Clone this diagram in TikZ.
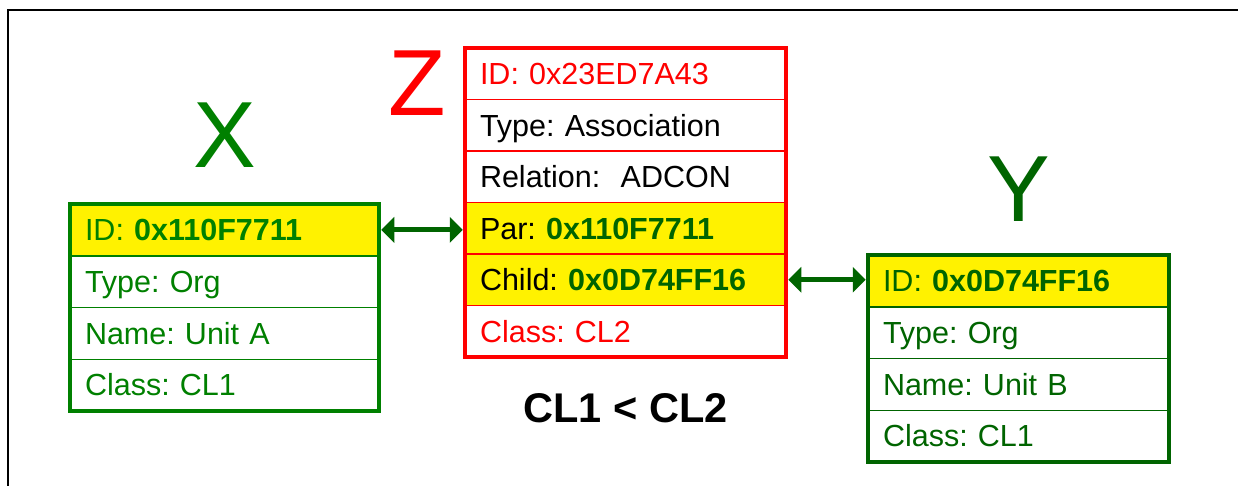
\documentclass[tikz,border=0pt]{standalone}
\usepackage{fontspec}
\setmainfont{Liberation Sans}
\usetikzlibrary{positioning,arrows.meta}
\definecolor{xgreen}{RGB}{0,128,0}
\definecolor{ygreen}{RGB}{0,100,0}
\newcommand{\rowfont}{\fontsize{30.5}{34}\selectfont\frenchspacing}
\newcommand{\bigfont}{\fontsize{94}{100}\selectfont}
\tikzset{
	cell/.style={draw, line width=1.5pt, outer sep=0pt, inner xsep=15pt, inner ysep=0pt,
		minimum height=51.75pt, text height=21.5pt, text depth=0pt, align=left, font=\rowfont},
	frame/.style={line width=4.5pt},
	letter/.style={inner sep=0pt, text height=67pt, text depth=0pt, font=\bigfont},
	link/.style={{Triangle[length=13pt,width=25pt]}-{Triangle[length=13pt,width=25pt]},
		ygreen, line width=5pt, shorten <=2.25pt, shorten >=2.25pt}
}
\begin{document}
\begin{tikzpicture}[x=1pt, y=-1pt]
			\useasboundingbox (0, 0) rectangle (1238, 485);
			\draw[line width=2pt]	(8, 490) -- (8, 10) -- (1240, 10);

			% X
			\node[cell, draw=xgreen, text=xgreen, fill=yellow, text width=279pt, anchor=north west] (xid) at (70, 204) {ID: \textbf{0x110F7711}};
			\node[cell, draw=xgreen, text=xgreen, text width=279pt, below=0pt of xid] (xtype) {Type: Org};
			\node[cell, draw=xgreen, text=xgreen, text width=279pt, below=0pt of xtype] (xname) {Name: Unit A};
			\node[cell, draw=xgreen, text=xgreen, text width=279pt, below=0pt of xname] (xclass) {Class: CL1};
			\draw[frame, xgreen]	(xid.north west) rectangle (xclass.south east);
			\node[letter, text=xgreen, above=36pt of xid] (xlabel) {X};

			% Z
			\node[cell, draw=red, text=red, text width=291pt, minimum height=51.5pt, anchor=north west] (zid) at (465, 48) {ID: 0x23ED7A43};
			\node[cell, draw=red, text width=291pt, minimum height=51.5pt, below=0pt of zid] (ztype) {Type: Association};
			\node[cell, draw=red, text width=291pt, minimum height=51.5pt, below=0pt of ztype] (zrel) {Relation:\ \ ADCON};
			\node[cell, draw=red, fill=yellow, text width=291pt, minimum height=51.5pt, below=0pt of zrel] (zpar) {Par: \textcolor{ygreen}{\textbf{0x110F7711}}};
			\node[cell, draw=red, fill=yellow, text width=291pt, minimum height=51.5pt, below=0pt of zpar] (zchild) {Child: \textcolor{ygreen}{\textbf{0x0D74FF16}}};
			\node[cell, draw=red, text=red, text width=291pt, minimum height=51.5pt, below=0pt of zchild] (zclass) {Class: CL2};
			\draw[frame, red]	(zid.north west) rectangle (zclass.south east);
			\node[letter, text=red, anchor=north east] (zlabel) at ([xshift=-19pt]zid.north west) {Z};

			% Y
			\node[cell, draw=ygreen, text=ygreen, fill=yellow, text width=271pt, anchor=north west] (yid) at (868, 255) {ID: \textbf{0x0D74FF16}};
			\node[cell, draw=ygreen, text=ygreen, text width=271pt, below=0pt of yid] (ytype) {Type: Org};
			\node[cell, draw=ygreen, text=ygreen, text width=271pt, below=0pt of ytype] (yname) {Name: Unit B};
			\node[cell, draw=ygreen, text=ygreen, text width=271pt, below=0pt of yname] (yclass) {Class: CL1};
			\draw[frame, ygreen]	(yid.north west) rectangle (yclass.south east);
			\node[letter, text=ygreen, above=33pt of yid] (ylabel) {Y};

			\node[inner sep=0pt, text height=29.7pt, text depth=0pt, font=\fontsize{41.5}{44}\selectfont\bfseries, below=36pt of zclass] (order) {CL1 < CL2};

			\draw[link]	(xid.east) -- (xid.east -| zpar.west);
			\draw[link]	(zchild.east) -- (zchild.east -| yid.west);
		\end{tikzpicture}
\end{document}
